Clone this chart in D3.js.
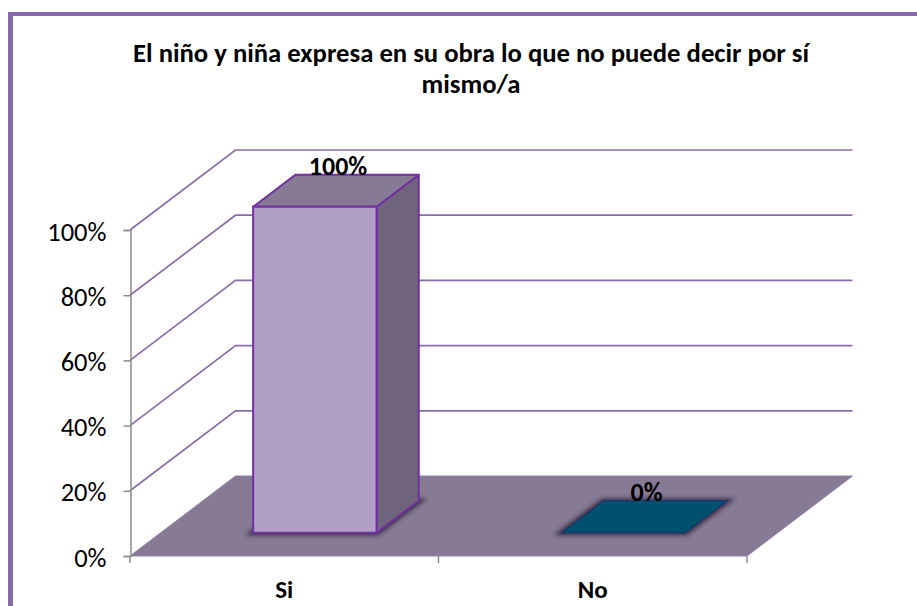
<!DOCTYPE html>
<html><head><meta charset="utf-8">
<script src="https://cdn.jsdelivr.net/npm/d3@7/dist/d3.min.js"></script>
<style>html,body{margin:0;padding:0;background:#fff}svg{display:block}text{font-family:Carlito,Calibri,Lato,"Open Sans","Noto Sans",sans-serif}</style>
</head><body><div id="c"></div>
<script>
const categories = ["Si","No"];
const values = [100,0];
const yTicks = [0,20,40,60,80,100];
const barFront = ["#b19fc5","#00506f"];
const titleLines = ["El niño y niña expresa en su obra lo que no puede decir por sí","mismo/a"];

const W=917,H=606;
const svg=d3.select("#c").append("svg").attr("width",W).attr("height",H);
const defs=svg.append("defs");
defs.append("filter").attr("id","blur").attr("x","-20%").attr("y","-20%").attr("width","140%").attr("height","140%")
  .append("feGaussianBlur").attr("stdDeviation",2.2);

const y=d3.scaleLinear().domain([0,100]).range([556,230]);
const x=d3.scaleBand().domain(categories).range([130,747]).paddingInner(0).paddingOuter(0);
const dz=d3.scaleLinear().domain([0,1]).range([0,105.5]);
const dy=d3.scaleLinear().domain([0,1]).range([0,80]);
const P=(px,v,z)=>[px+dz(z),y(v)-dy(z)];
const poly=pts=>d3.line()(pts)+"Z";
const GRID="#8a6cab", FLOOR="#867a94", AXIS="#8c8c8c", BAR="#7030a0";

// frame
svg.append("rect").attr("x",8).attr("y",12).attr("width",909).attr("height",4).attr("fill","#8768a8");
svg.append("rect").attr("x",8).attr("y",12).attr("width",5).attr("height",594).attr("fill","#8768a8");

// gridlines
yTicks.filter(t=>t>0).forEach(t=>{
  svg.append("path").attr("fill","none").attr("stroke",GRID).attr("stroke-width",1.7)
    .attr("d",d3.line()([P(130,t,0),P(130,t,1),P(747,t,1)]));
});

// floor
svg.append("path").attr("d",poly([P(130,0,0),P(747,0,0),P(747,0,1),P(130,0,1)]))
  .attr("fill",FLOOR).attr("stroke","#9180a8").attr("stroke-width",1);

// axes
const yAxis=d3.axisLeft(y).tickValues(yTicks).tickFormat(d=>d+"%").tickSize(7).tickPadding(17);
const gy=svg.append("g").attr("transform","translate(130.5,0)").call(yAxis);
gy.selectAll("path,line").attr("stroke",AXIS).attr("stroke-width",1.5);
gy.selectAll("text").attr("font-size",26.5).attr("fill","#000").attr("dy","0.38em");

const gx=svg.append("g").attr("transform","translate(0,556)");
const xTicks=[x.range()[0],...categories.map(c=>x(c)+x.bandwidth())];
gx.selectAll("line").data(xTicks).join("line").attr("x1",d=>d).attr("x2",d=>d).attr("y1",0).attr("y2",7).attr("stroke",AXIS).attr("stroke-width",1.5);
gx.selectAll("text").data(categories).join("text").attr("x",c=>x(c)+x.bandwidth()/2).attr("y",42)
  .attr("text-anchor","middle").attr("font-size",25).attr("font-weight",700).text(c=>c);

// bars
const z0=0.29,z1=0.69,barFrac=0.4;
categories.forEach((c,i)=>{
  const cx=x(c)+x.bandwidth()/2, w=x.bandwidth()*barFrac, l=cx-w/2, r=cx+w/2, v=values[i];
  const g=svg.append("g");
  // shadow on floor
  g.append("path").attr("d",poly([P(l-5,0,z0-0.03),P(r+5,0,z0-0.03),P(r+5,0,z1+0.03),P(l-5,0,z1+0.03)]))
    .attr("fill","#2e2438").attr("opacity",0.85).attr("filter","url(#blur)");
  if(v>0){
    g.append("path").attr("d",poly([P(r,0,z0),P(r,0,z1),P(r,v,z1),P(r,v,z0)])).attr("fill","#70637d").attr("stroke",BAR).attr("stroke-width",2).attr("stroke-linejoin","round");
    g.append("path").attr("d",poly([P(l,v,z0),P(r,v,z0),P(r,v,z1),P(l,v,z1)])).attr("fill","#867a94").attr("stroke",BAR).attr("stroke-width",2).attr("stroke-linejoin","round");
    g.append("path").attr("d",poly([P(l,0,z0),P(r,0,z0),P(r,v,z0),P(l,v,z0)])).attr("fill",barFront[i]).attr("stroke",BAR).attr("stroke-width",2);
  } else {
    g.append("path").attr("d",poly([P(l,0,z0),P(r,0,z0),P(r,0,z1),P(l,0,z1)])).attr("fill",barFront[i]).attr("stroke","#17386e").attr("stroke-width",1.2);
  }
  const top=P(cx,v,z1);
  svg.append("text").attr("x",top[0]-19).attr("y",top[1]).attr("text-anchor","middle").attr("font-size",26).attr("font-weight",700).text(v+"%");
});

// title
svg.append("text").attr("text-anchor","middle").attr("font-size",26.7).attr("font-weight",700).attr("fill","#000")
  .selectAll("tspan").data(titleLines).join("tspan").attr("x",471).attr("y",(d,i)=>62+i*31).text(d=>d);
</script></body></html>
